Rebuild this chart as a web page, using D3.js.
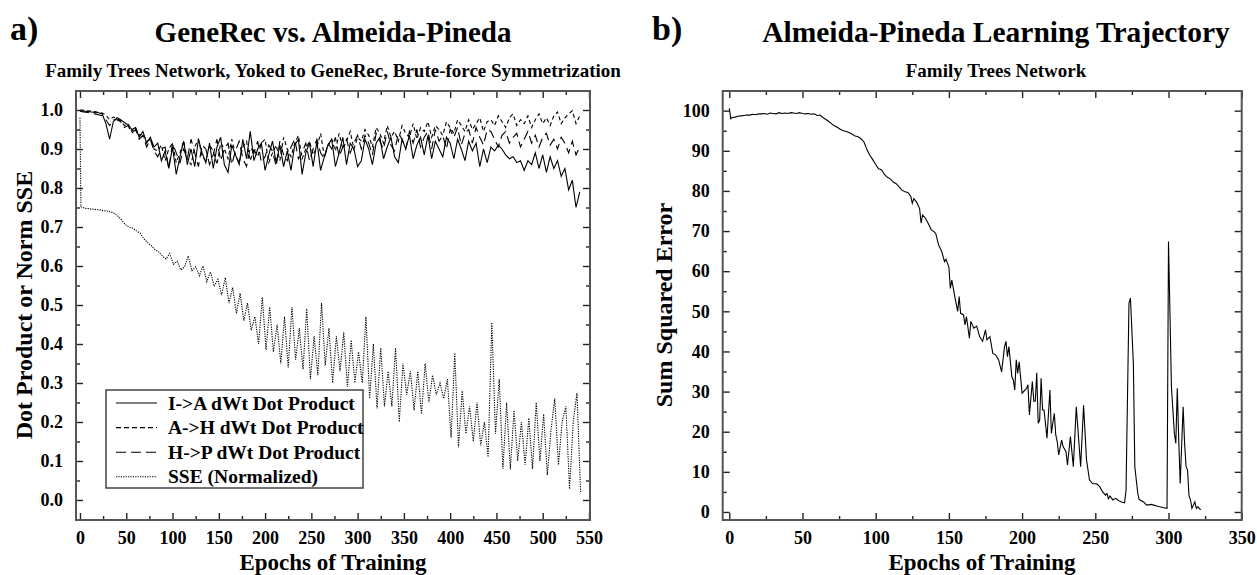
<!DOCTYPE html>
<html>
<head>
<meta charset="utf-8">
<script src="https://cdn.jsdelivr.net/npm/d3@7"></script>
<style>
  body { margin: 0; background: #fff; }
  text { font-family: "Liberation Serif", "Times New Roman", serif; font-weight: bold; fill: #000; }
  .tick line { stroke: #222; stroke-width: 1.4; }
</style>
</head>
<body>
<svg id="chart" width="1257" height="575"></svg>
<script>
// ---- panel a: dot products (every 4 epochs) ----
const dotEpochs = d3.range(0, 541, 4);
const iaDot = [
  .998,.997,.996,.995,.994,.993,.99,.965,.925,.97,.98,.975,.968,.962,.95,.955,.93,.945,.915,.93,.905,
  .915,.87,.895,.85,.905,.835,.88,.92,.86,.9,
  .855,.925,.89,.865,.915,.85,.905,.93,.86,.84,
  .91,.885,.86,.925,.875,.945,.87,.9,.915,.845,
  .885,.92,.865,.91,.855,.895,.845,.91,.925,.835,
  .89,.915,.855,.92,.845,.88,.91,.925,.855,.89,
  .93,.86,.915,.9,.855,
  .87,.925,.9,.86,.915,.93,.875,.905,.93,.88,
  .865,.925,.9,.935,.875,.91,.93,.885,.935,.875,
  .92,.9,.88,.93,.915,.875,.925,.9,.87,.92,
  .895,.915,.855,.9,.865,
  .905,.895,.91,.9,.885,.875,.88,.865,.87,.845,
  .87,.86,.89,.85,.885,.84,.88,.85,.87,.83,
  .85,.795,.82,.75,.79
];
const ahDot = [
  1.0,.999,.998,.997,.996,.994,.992,.987,.975,.982,.978,.972,.96,.965,.945,.955,.935,.94,.92,.925,.9,
  .895,.91,.87,.9,.915,.865,.89,.92,.875,.86,
  .905,.925,.88,.87,.91,.895,.86,.915,.9,.875,
  .925,.885,.865,.905,.92,.87,.9,.88,.915,.925,
  .865,.89,.91,.87,.93,.9,.88,.915,.935,.875,
  .9,.92,.885,.905,.94,.88,.91,.925,.895,.94,
  .9,.92,.945,.9,.93,
  .92,.95,.935,.905,.955,.94,.915,.96,.93,.945,
  .92,.96,.94,.93,.965,.925,.955,.945,.97,.93,
  .96,.95,.935,.97,.955,.94,.975,.96,.945,.975,
  .95,.965,.98,.945,.97,
  .975,.96,.985,.97,.955,.98,.99,.96,.975,.965,
  .985,.955,.975,.99,.965,.98,.96,.985,.995,.965,
  .98,.99,.998,.965,.985
];
const hpDot = [
  .997,.995,.994,.992,.99,.988,.985,.975,.96,.975,.975,.97,.955,.96,.94,.95,.925,.935,.905,.925,.895,
  .88,.9,.905,.85,.915,.89,.865,.9,.875,.925,
  .89,.855,.91,.9,.86,.885,.925,.87,.9,.915,
  .86,.895,.92,.875,.855,.905,.89,.92,.865,.88,
  .91,.895,.855,.92,.885,.87,.905,.925,.875,.89,
  .915,.87,.9,.925,.89,.875,.915,.9,.93,.88,
  .905,.925,.89,.915,.935,
  .9,.935,.915,.885,.94,.92,.9,.945,.91,.895,
  .94,.925,.9,.945,.915,.95,.905,.93,.945,.9,
  .95,.92,.935,.9,.95,.93,.955,.91,.94,.95,
  .915,.955,.93,.91,.95,
  .945,.925,.905,.935,.945,.915,.93,.94,.905,.925,
  .945,.915,.935,.905,.93,.94,.91,.925,.9,.93,
  .915,.89,.92,.885,.905
];
// normalized SSE: first point at epoch 0, then every 4 epochs from epoch 1
const sseEpochs = [0].concat(d3.range(1, 542, 4));
const sseNorm = [
  .98,
  .752,.748,.747,.746,.745,.744,.742,.741,.739,.735,
  .728,.718,.706,.700,.697,.690,.684,.670,.660,.652,
  .642,.636,.626,.618,.632,.604,.612,.590,.598,.626,
  .588,.598,.575,.600,.560,.585,.548,.566,.525,.570,
  .505,.545,.478,.530,.460,.505,.435,.470,.400,.520,
  .385,.495,.380,.450,.350,.470,.340,.495,.360,.440,
  .335,.490,.310,.420,.320,.505,.345,.440,.300,.420,
  .330,.430,.290,.410,.300,.380,.300,.470,.260,.400,
  .235,.390,.240,.330,.240,.390,.200,.350,.270,.330,
  .230,.330,.220,.350,.250,.320,.270,.300,.260,.310,
  .160,.377,.135,.280,.170,.240,.150,.250,.140,.200,
  .110,.455,.170,.310,.080,.250,.078,.230,.100,.200,
  .090,.210,.080,.250,.100,.220,.064,.180,.260,.090,
  .200,.240,.028,.200,.275,.018
];
const legendLabels = ["I->A dWt Dot Product", "A->H dWt Dot Product", "H->P dWt Dot Product", "SSE (Normalized)"];

// ---- panel b: Almeida-Pineda SSE ----
const apEpochs = [
  0,1,2,4,6,8,10,12,14,16,18,20,22,24,26,28,30,32,34,36,38,40,42,44,46,48,50,52,54,56,58,60,62,64,66,68,70,
  72,74,76,78,80,82,84,86,88,90,92,94,96,98,100,102,104,106,108,110,112,114,116,118,120,122,124,125,126,128,
  130,131,132,134,136,138,140,141,143,145,147,148,150,151,152,154,156,157,158,160,161,162,164,165,167,169,
  171,173,175,176,178,180,182,184,186,188,189,190,191,193,194,195,196,197,198,200,203,204,205,207,208,209,
  210,211,212,213,214,215,217,219,220,222,223,224,225,227,228,230,231,233,235,237,240,242,244,246,248,251,
  253,255,257,258,259,260,262,264,266,268,270,271,273,274,276,277,279,280,283,285,288,290,292,294,296,299,
  300,301,302,304,305,306,307,308,310,311,312,313,314,315,316,318,319,320,322
];
const apSSE = [
  100.6,98.0,98.3,98.4,98.6,98.7,98.8,98.9,98.9,99.1,99.0,99.2,99.2,99.3,99.1,99.4,99.3,99.2,99.5,99.3,99.4,99.3,99.5,99.4,99.3,99.5,99.3,99.2,99.3,99.1,99.2,98.8,98.9,98.3,97.8,97.3,96.7,
  96.2,95.8,95.3,95.0,94.8,94.5,94.1,93.7,93.5,93.0,92.2,90.3,88.9,87.8,86.6,85.5,85.3,84.1,83.4,83.0,82.2,81.8,81.0,80.2,79.8,79.6,78.6,76.9,78.1,77.2,
  75.6,72.0,74.0,73.2,71.8,70.3,69.8,69.4,66.5,65.0,62.4,63.0,61.0,55.7,57.8,53.7,50.0,53.7,49.5,49.1,46.6,48.7,43.3,47.5,45.8,46.3,
  43.7,42.5,45.4,42.9,43.7,39.5,39.1,37.9,34.9,41.2,42.5,38.7,41.2,33.7,32.9,30.4,37.9,34.5,37.4,29.6,30.8,31.7,24.2,32.5,27.6,27.6,
  34.7,22.1,22.9,33.3,25.4,25.4,18.4,30.4,19.6,24.6,19.2,17.5,14.2,17.9,16.3,15.0,11.7,18.8,11.3,26.2,11.3,26.6,13.0,8.0,7.1,7.0,
  6.3,5.0,4.2,4.6,3.3,4.0,3.0,3.4,2.8,2.5,2.3,5.4,52.0,53.3,37.0,11.3,4.6,3.1,2.5,1.7,1.9,1.7,1.5,1.3,1.1,0.9,
  67.4,49.5,31.2,19.6,17.1,30.8,17.9,7.1,26.2,17.1,11.3,10.5,4.0,3.1,0.9,2.5,0.9,1.3,0.5
];

const svg = d3.select("#chart");

function frameAndTicks(g, x, y, xMajor, xMinor, yMajor, yMinor, yFmt) {
  const [x0, x1] = x.range();
  const [y0, y1] = y.range();
  g.append("g").attr("transform", `translate(0,${y0})`)
    .call(d3.axisBottom(x).tickValues(xMajor).tickSize(-7).tickPadding(11).tickFormat(d3.format("d")))
    .call(a => a.select(".domain").remove())
    .selectAll("text").style("font-size", "18px").style("font-family", null);
  g.append("g").attr("transform", `translate(0,${y0})`)
    .call(d3.axisBottom(x).tickValues(xMinor).tickSize(-4).tickFormat(""))
    .call(a => a.select(".domain").remove());
  g.append("g").attr("transform", `translate(0,${y1})`)
    .call(d3.axisTop(x).tickValues(xMajor).tickSize(-7).tickFormat(""))
    .call(a => a.select(".domain").remove());
  g.append("g").attr("transform", `translate(0,${y1})`)
    .call(d3.axisTop(x).tickValues(xMinor).tickSize(-4).tickFormat(""))
    .call(a => a.select(".domain").remove());
  g.append("g").attr("transform", `translate(${x0},0)`)
    .call(d3.axisLeft(y).tickValues(yMajor).tickSize(-7).tickPadding(13).tickFormat(yFmt))
    .call(a => a.select(".domain").remove())
    .selectAll("text").style("font-size", "18px").style("font-family", null);
  g.append("g").attr("transform", `translate(${x0},0)`)
    .call(d3.axisLeft(y).tickValues(yMinor).tickSize(-4).tickFormat(""))
    .call(a => a.select(".domain").remove());
  g.append("g").attr("transform", `translate(${x1},0)`)
    .call(d3.axisRight(y).tickValues(yMajor).tickSize(-7).tickFormat(""))
    .call(a => a.select(".domain").remove());
  g.append("g").attr("transform", `translate(${x1},0)`)
    .call(d3.axisRight(y).tickValues(yMinor).tickSize(-4).tickFormat(""))
    .call(a => a.select(".domain").remove());
  g.append("rect")
    .attr("x", x0).attr("y", y1).attr("width", x1 - x0).attr("height", y0 - y1)
    .attr("fill", "none").attr("stroke", "#555").attr("stroke-width", 2);
}

// ----- panel a -----
const xa = d3.scaleLinear().domain([-4.3, 551.1]).range([76, 590]);
const ya = d3.scaleLinear().domain([-0.0513, 1.0487]).range([520, 91]);
const ga = svg.append("g");

const lineA = (xs, ys) => d3.line().x((d, i) => xa(xs[i])).y(d => ya(d))(ys);
const seriesA = [
  { vals: sseNorm, xs: sseEpochs, dash: "1.2,1.2" },
  { vals: hpDot, xs: dotEpochs, dash: "9,5" },
  { vals: ahDot, xs: dotEpochs, dash: "4,3" },
  { vals: iaDot, xs: dotEpochs, dash: null }
];
seriesA.forEach(s => {
  ga.append("path").attr("d", lineA(s.xs, s.vals))
    .attr("fill", "none").attr("stroke", "#000").attr("stroke-width", 1.1)
    .attr("stroke-dasharray", s.dash);
});

frameAndTicks(ga, xa, ya,
  d3.range(0, 551, 50), d3.range(25, 551, 50),
  d3.range(0, 11).map(d => d / 10), d3.range(0, 10).map(d => d / 10 + 0.05),
  d3.format(".1f"));

// legend
const leg = ga.append("g");
leg.append("rect").attr("x", 106).attr("y", 390).attr("width", 257).attr("height", 98)
  .attr("fill", "#fff").attr("stroke", "#444").attr("stroke-width", 1.5);
const legDash = [null, "5,3", "10,5", "1.2,1.2"];
legendLabels.forEach((t, i) => {
  const yy = 403 + i * 24.6;
  leg.append("line").attr("x1", 116).attr("x2", 157).attr("y1", yy).attr("y2", yy)
    .attr("stroke", "#000").attr("stroke-width", 1.1).attr("stroke-dasharray", legDash[i]);
  leg.append("text").attr("x", 168).attr("y", yy + 6.5).style("font-size", "19.5px").text(t);
});

ga.append("text").attr("x", 10).attr("y", 40).style("font-size", "34px").text("a)");
ga.append("text").attr("x", 333).attr("y", 42).attr("text-anchor", "middle").style("font-size", "29px")
  .text("GeneRec vs. Almeida-Pineda");
ga.append("text").attr("x", 333).attr("y", 77).attr("text-anchor", "middle").style("font-size", "19px")
  .text("Family Trees Network, Yoked to GeneRec, Brute-force Symmetrization");
ga.append("text").attr("x", 333).attr("y", 570).attr("text-anchor", "middle").style("font-size", "23px")
  .text("Epochs of Training");
ga.append("text").attr("transform", "translate(32,305) rotate(-90)").attr("text-anchor", "middle")
  .style("font-size", "24px").text("Dot Product or Norm SSE");

// ----- panel b -----
const xb = d3.scaleLinear().domain([-4.5, 350]).range([722.7, 1241.7]);
const yb = d3.scaleLinear().domain([-2.0, 104.9]).range([520, 91]);
const gb = svg.append("g");

gb.append("path")
  .attr("d", d3.line().x((d, i) => xb(apEpochs[i])).y(d => yb(d))(apSSE))
  .attr("fill", "none").attr("stroke", "#000").attr("stroke-width", 1.1);

frameAndTicks(gb, xb, yb,
  d3.range(0, 351, 50), d3.range(25, 351, 50),
  d3.range(0, 101, 10), d3.range(5, 101, 10),
  d3.format("d"));

gb.append("text").attr("x", 652).attr("y", 40).style("font-size", "34px").text("b)");
gb.append("text").attr("x", 996).attr("y", 42).attr("text-anchor", "middle").style("font-size", "29.5px")
  .text("Almeida-Pineda Learning Trajectory");
gb.append("text").attr("x", 996).attr("y", 77).attr("text-anchor", "middle").style("font-size", "19px")
  .text("Family Trees Network");
gb.append("text").attr("x", 982).attr("y", 570).attr("text-anchor", "middle").style("font-size", "23px")
  .text("Epochs of Training");
gb.append("text").attr("transform", "translate(672,305) rotate(-90)").attr("text-anchor", "middle")
  .style("font-size", "24px").text("Sum Squared Error");
</script>
</body>
</html>
